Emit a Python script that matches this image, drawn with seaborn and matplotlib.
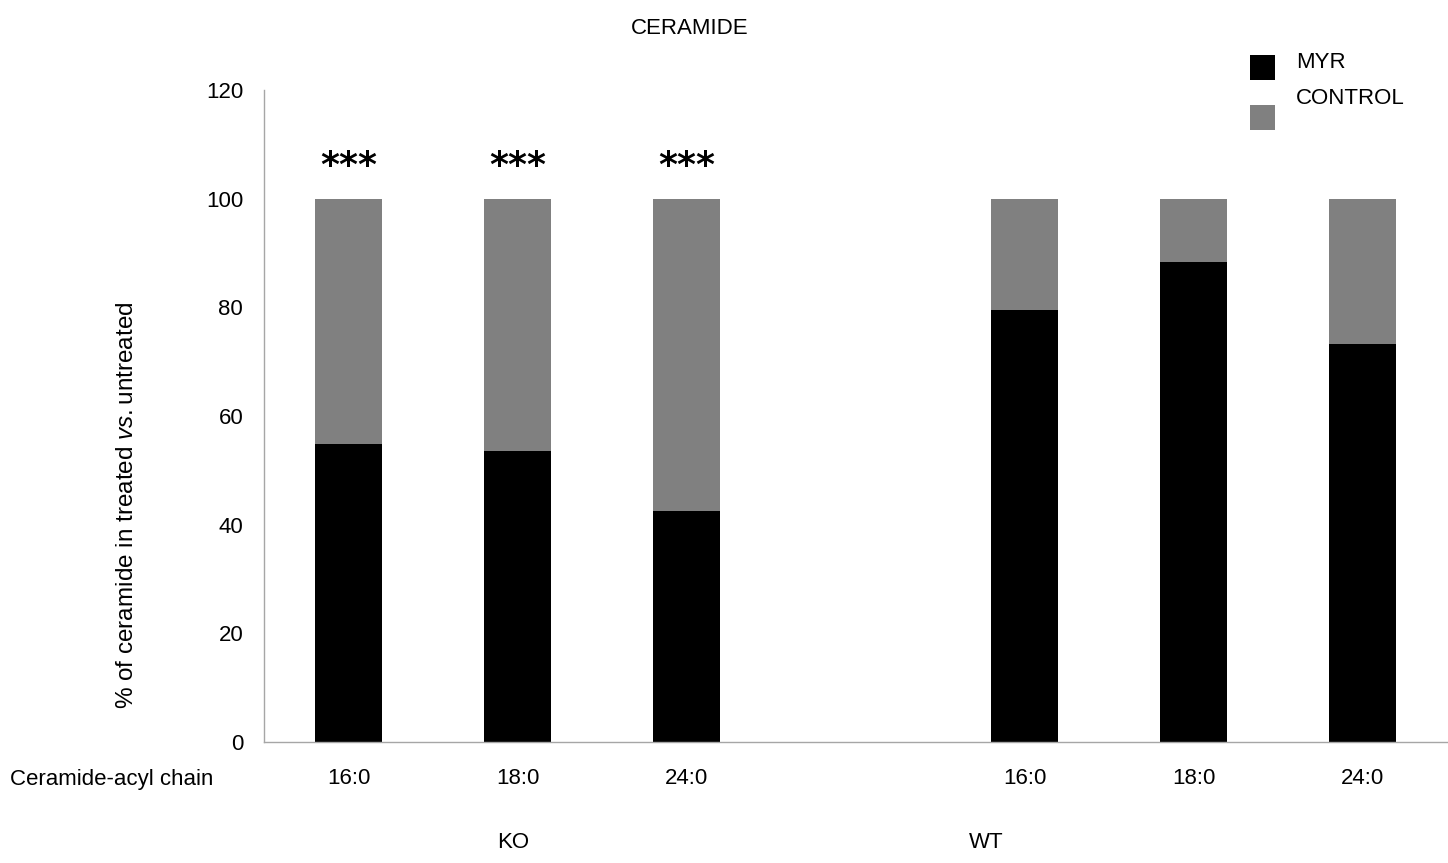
import matplotlib
matplotlib.use("Agg")
import matplotlib.pyplot as plt
from matplotlib.patches import Rectangle
import seaborn as sns
import pandas as pd

# ---- data ----
slots = ["KO 16:0", "KO 18:0", "KO 24:0", "gap", "WT 16:0", "WT 18:0", "WT 24:0"]
chain_labels = ["16:0", "18:0", "24:0", "", "16:0", "18:0", "24:0"]
bar_slots = ["KO 16:0", "KO 18:0", "KO 24:0", "WT 16:0", "WT 18:0", "WT 24:0"]
myr_values = [54.8, 53.6, 42.6, 79.6, 88.4, 73.2]
control_total = [100, 100, 100, 100, 100, 100]
significance = ["***", "***", "***", "", "", ""]
groups = ["KO", "WT"]

sns.set_theme(style="white")
plt.rcParams["font.family"] = ["Liberation Sans Narrow", "Liberation Sans", "DejaVu Sans"]
plt.rcParams["mathtext.fontset"] = "custom"
plt.rcParams["mathtext.rm"] = "Liberation Sans"
plt.rcParams["mathtext.it"] = "Liberation Sans:italic"
for k in ["text.color", "xtick.labelcolor", "ytick.labelcolor", "axes.labelcolor"]:
    plt.rcParams[k] = "black"

FS = 16

df = pd.DataFrame({"slot": bar_slots, "MYR": myr_values, "TOTAL": control_total})

fig = plt.figure(figsize=(14.48, 8.63), dpi=100)
ax = fig.add_axes([264 / 1448, 1 - 742 / 863, (1447 - 264) / 1448, (742 - 90) / 863])

sns.barplot(data=df, x="slot", y="TOTAL", order=slots, color="#808080",
            width=0.4, saturation=1, ax=ax, edgecolor="none")
sns.barplot(data=df, x="slot", y="MYR", order=slots, color="#000000",
            width=0.4, saturation=1, ax=ax, edgecolor="none")

ax.set_xlim(-0.5, len(slots) - 0.5)
ax.set_ylim(0, 120)
ax.set_yticks([0, 20, 40, 60, 80, 100, 120])
ax.set_xlabel("")
ax.set_ylabel("")

# x ticks at category boundaries, labels at centers
ax.set_xticks([i - 0.5 for i in range(len(slots) + 1)])
ax.set_xticklabels([])
ax.set_xticks(range(len(slots)), minor=True)
ax.set_xticklabels(chain_labels, minor=True)
ax.tick_params(axis="x", which="minor", length=0, pad=19, labelsize=FS, labelcolor="black")
ax.tick_params(axis="x", which="major", length=8, width=1, color="#a6a6a6", direction="out")
ax.tick_params(axis="y", length=8, width=1, color="#a6a6a6", direction="out",
               labelsize=FS, pad=7, labelcolor="black")

for s in ["top", "right"]:
    ax.spines[s].set_visible(False)
for s in ["left", "bottom"]:
    ax.spines[s].set_color("#a6a6a6")
    ax.spines[s].set_linewidth(1)

# significance stars
for i, s in enumerate(bar_slots):
    if significance[i]:
        ax.text(slots.index(s), 106.0, significance[i], ha="center", va="center",
                fontsize=26, fontweight="bold", family="DejaVu Sans", color="black")

# labels
fig.text(690 / 1448, 1 - 28 / 863, "CERAMIDE", ha="center", va="center", fontsize=FS)
fig.text(10 / 1448, 1 - 779 / 863, "Ceramide-acyl chain", ha="left", va="center", fontsize=FS)
fig.text(513 / 1448, 1 - 842 / 863, groups[0], ha="center", va="center", fontsize=FS)
fig.text(986 / 1448, 1 - 842 / 863, groups[1], ha="center", va="center", fontsize=FS)
fig.text(127 / 1448, 1 - 505 / 863, r"% of ceramide in treated $\it{vs.}$untreated",
         rotation=90, ha="center", va="center", fontsize=17.5)

# legend
fig.patches.append(Rectangle((1250 / 1448, 1 - 80 / 863), 25 / 1448, 25 / 863,
                             transform=fig.transFigure, facecolor="black", edgecolor="none"))
fig.patches.append(Rectangle((1250 / 1448, 1 - 130 / 863), 25 / 1448, 25 / 863,
                             transform=fig.transFigure, facecolor="#808080", edgecolor="none"))
fig.text(1296 / 1448, 1 - 62 / 863, "MYR", ha="left", va="center", fontsize=FS)
fig.text(1296 / 1448, 1 - 98 / 863, "CONTROL", ha="left", va="center", fontsize=FS)

fig.savefig("out.png", dpi=100)
